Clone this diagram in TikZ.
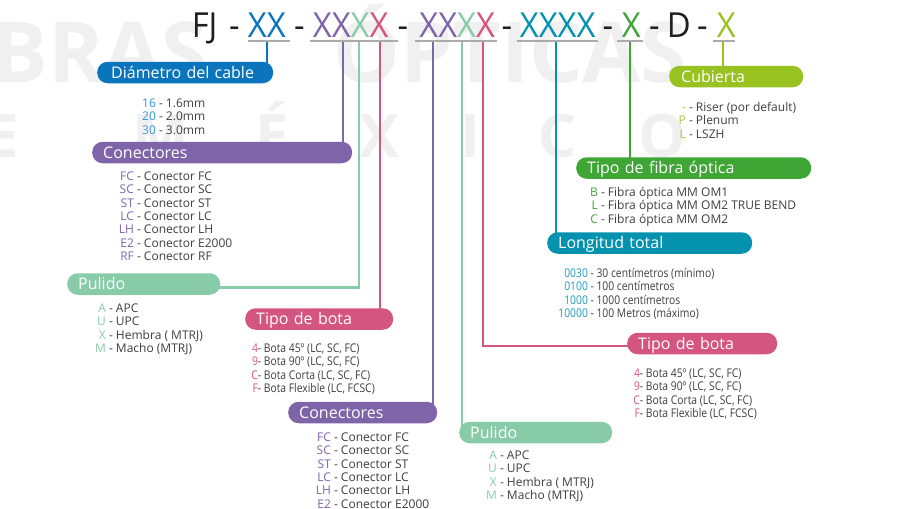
\documentclass[tikz,border=0pt]{standalone}
\usepackage{fontspec}
\setmainfont{Open Sans}
\newfontfamily\condfont{Open Sans}[FakeStretch=0.86]
\newfontfamily\ttlfont{Open Sans}[FakeStretch=0.95]

\definecolor{txt}{HTML}{3E3E3E}
\definecolor{cblue}{HTML}{0A74BC}
\definecolor{kblue}{HTML}{3494D8}
\definecolor{cpur}{HTML}{8064A9}
\definecolor{cmint}{HTML}{88CBA8}
\definecolor{cpink}{HTML}{D4557F}
\definecolor{cteal}{HTML}{0592AE}
\definecolor{kteal}{HTML}{1C9DBF}
\definecolor{cgrn}{HTML}{3FA535}
\definecolor{clime}{HTML}{98C21F}
\definecolor{klime}{HTML}{A6C93A}

\newcommand{\cd}[2]{\makebox[30pt][r]{\textcolor{#1}{#2}}}

\pgfdeclarelayer{wm}
\pgfdeclarelayer{bg}
\pgfsetlayers{wm,bg,main}

\begin{document}
\begin{tikzpicture}[
  x=1pt, y=-1pt,
  ttl/.style={inner sep=0pt, anchor=base west, text=black!88,
    font=\fontsize{34.5}{40}\ttlfont},
  pill/.style={rounded corners=10.5pt, minimum height=21.5pt, inner xsep=11pt,
    inner ysep=0pt, text height=11.4pt, text depth=0pt, anchor=west,
    align=left, text=white, font=\fontsize{16}{18}\selectfont},
  lst/.style={inner sep=0pt, anchor=north west, text=txt,
    font=\fontsize{12}{13.3}\selectfont},
  wire/.style={line width=2.2pt},
  uline/.style={line width=2.3pt, draw=black!33},
  wmark/.style={inner sep=0pt, text=black!6, font=\bfseries},
]
\useasboundingbox (0,0) rectangle (898,509);

\begin{pgfonlayer}{wm}
  \node[wmark, anchor=base east, font=\bfseries\fontsize{84}{84}\selectfont] (wmA) at (208,82) {BRAS};
  \node[wmark, anchor=base west, font=\bfseries\fontsize{84}{84}\selectfont] (wmB) at (333,82) {ÓPTICAS};
  \foreach \ch/\x [count=\i] in {E/2, M/161, É/272, X/380, I/470, C/558, O/662}
    \node[wmark, anchor=base, font=\bfseries\fontsize{60}{60}\selectfont] (wmC\i) at (\x,157) {\ch};
\end{pgfonlayer}

% code line
\node[ttl] (tFJ) at (191.6,37.3) {FJ};
\node[ttl, text=cblue] (g1) at (247.7,37.3) {XX};
\node[ttl] (g2) at (312.7,37.3) {\textcolor{cpur}{XX}\textcolor{cmint}{X}\textcolor{cpink}{X}};
\node[ttl] (g3) at (419.2,37.3) {\textcolor{cpur}{XX}\textcolor{cmint}{X}\textcolor{cpink}{X}};
\node[ttl, text=cteal] (g4) at (519.7,37.3) {XXXX};
\node[ttl, text=cgrn] (g5) at (621.7,37.3) {X};
\node[ttl] (tD) at (666.6,37.3) {D};
\node[ttl, text=clime] (g6) at (716.7,37.3) {X};
\foreach \x [count=\i] in {229,294,397.5,501.5,602.5,649,697}
  \node[ttl] (dash\i) at (\x,37.3) {-};

\foreach \a/\b in {248/290, 310/398, 415/497, 517/598, 617/643, 713/735}
  \draw[uline] (\a,41) -- (\b,41);

% pills
\node[pill, fill=cblue, text width=148pt, inner xsep=14pt] (dia) at (97,72.5) {Diámetro del cable};
\node[pill, fill=cpur, text width=238pt] (con1) at (92,152.5) {Conectores};
\node[pill, fill=cmint, text width=131pt] (pul1) at (67,284) {Pulido};
\node[pill, fill=cpink, text width=126pt] (bota1) at (245,319) {Tipo de bota};
\node[pill, fill=cpur, text width=127pt] (con2) at (288,412.5) {Conectores};
\node[pill, fill=cmint, text width=131pt] (pul2) at (459,432.5) {Pulido};
\node[pill, fill=cpink, text width=128pt] (bota2) at (627,343.5) {Tipo de bota};
\node[pill, fill=cteal, text width=183pt] (lon) at (547,243) {Longitud total};
\node[pill, fill=cgrn, text width=213pt] (fib) at (576,168) {Tipo de fibra óptica};
\node[pill, fill=clime, text width=110pt, inner xsep=12pt] (cub) at (669,76.5) {Cubierta};

% wires
\coordinate (sdia) at (267,41);
\coordinate (scon1) at (343,41);
\coordinate (spul1) at (359,41);
\coordinate (sbota1) at (380,41);
\coordinate (scon2) at (433,41);
\coordinate (spul2) at (462,41);
\coordinate (sbota2) at (483,41);
\coordinate (slon) at (556,41);
\coordinate (sfib) at (630,41);
\coordinate (scub) at (723,41);
\begin{pgfonlayer}{bg}
  \draw[wire, cblue] (sdia) -- (sdia |- dia.center);
  \draw[wire, cpur] (scon1) -- (scon1 |- con1.center);
  \draw[wire, cmint] (spul1) |- ([yshift=-3.5pt]pul1.center);
  \draw[wire, cpink] (sbota1) -- (sbota1 |- bota1.center);
  \draw[wire, cpur] (scon2) -- (scon2 |- con2.center);
  \draw[wire, cmint] (spul2) -- (spul2 |- pul2.center);
  \draw[wire, cpink] (sbota2) |- ([yshift=-2.5pt]bota2.center);
  \draw[wire, cteal] (slon) -- (slon |- lon.center);
  \draw[wire, cgrn] (sfib) -- (sfib |- fib.center);
  \draw[wire, clime] (scub) -- (scub |- cub.center);
\end{pgfonlayer}

% lists
\node[lst] (dialst) at (125.7,98) {\begin{tabular}{@{}l@{ - }l@{}}
  \cd{kblue}{16} & 1.6mm\\
  \cd{kblue}{20} & 2.0mm\\
  \cd{kblue}{30} & 3.0mm
\end{tabular}};
\node[lst] (con1lst) at (103.7,171) {\begin{tabular}{@{}l@{ - }l@{}}
  \cd{cpur}{FC} & Conector FC\\
  \cd{cpur}{SC} & Conector SC\\
  \cd{cpur}{ST} & Conector ST\\
  \cd{cpur}{LC} & Conector LC\\
  \cd{cpur}{LH} & Conector LH\\
  \cd{cpur}{E2} & Conector E2000\\
  \cd{cpur}{RF} & Conector RF
\end{tabular}};
\node[lst] (pul1lst) at (75.7,303) {\begin{tabular}{@{}l@{ - }l@{}}
  \cd{cmint}{A} & APC\\
  \cd{cmint}{U} & UPC\\
  \cd{cmint}{X} & Hembra ( MTRJ)\\
  \cd{cmint}{M} & Macho (MTRJ)
\end{tabular}};
\node[lst, font=\fontsize{12}{13.3}\condfont] (bota1lst) at (227.7,343) {\begin{tabular}{@{}l@{- }l@{}}
  \cd{cpink}{4} & Bota 45º (LC, SC, FC)\\
  \cd{cpink}{9} & Bota 90º (LC, SC, FC)\\
  \cd{cpink}{C} & Bota Corta (LC, SC, FC)\\
  \cd{cpink}{F} & Bota Flexible (LC, FCSC)
\end{tabular}};
\node[lst] (con2lst) at (300.7,432) {\begin{tabular}{@{}l@{ - }l@{}}
  \cd{cpur}{FC} & Conector FC\\
  \cd{cpur}{SC} & Conector SC\\
  \cd{cpur}{ST} & Conector ST\\
  \cd{cpur}{LC} & Conector LC\\
  \cd{cpur}{LH} & Conector LH\\
  \cd{cpur}{E2} & Conector E2000
\end{tabular}};
\node[lst] (pul2lst) at (466.7,450) {\begin{tabular}{@{}l@{ - }l@{}}
  \cd{cmint}{A} & APC\\
  \cd{cmint}{U} & UPC\\
  \cd{cmint}{X} & Hembra ( MTRJ)\\
  \cd{cmint}{M} & Macho (MTRJ)
\end{tabular}};
\node[lst, font=\fontsize{12}{13.3}\condfont] (bota2lst) at (609.7,368) {\begin{tabular}{@{}l@{- }l@{}}
  \cd{cpink}{4} & Bota 45º (LC, SC, FC)\\
  \cd{cpink}{9} & Bota 90º (LC, SC, FC)\\
  \cd{cpink}{C} & Bota Corta (LC, SC, FC)\\
  \cd{cpink}{F} & Bota Flexible (LC, FCSC)
\end{tabular}};
\node[lst, font=\fontsize{12}{13.3}\condfont] (lonlst) at (557.7,268) {\begin{tabular}{@{}l@{ - }l@{}}
  \cd{kteal}{0030} & 30 centímetros (mínimo)\\
  \cd{kteal}{0100} & 100 centímetros\\
  \cd{kteal}{1000} & 1000 centímetros\\
  \cd{kteal}{10000} & 100 Metros (máximo)
\end{tabular}};
\node[lst] (fiblst) at (567.7,187) {\begin{tabular}{@{}l@{ - }l@{}}
  \cd{cgrn}{B} & Fibra óptica MM OM1\\
  \cd{cgrn}{L} & Fibra óptica MM OM2 TRUE BEND\\
  \cd{cgrn}{C} & Fibra óptica MM OM2
\end{tabular}};
\node[lst] (cublst) at (655.7,102) {\begin{tabular}{@{}l@{ - }l@{}}
  \cd{klime}{-} & Riser (por default)\\
  \cd{klime}{P} & Plenum\\
  \cd{klime}{L} & LSZH
\end{tabular}};
\end{tikzpicture}
\end{document}
